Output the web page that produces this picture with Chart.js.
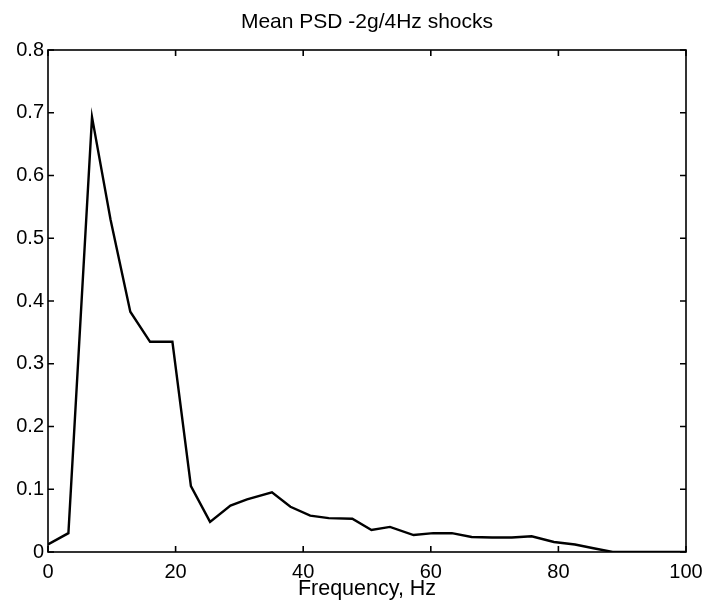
<!DOCTYPE html>
<html>
<head>
<meta charset="utf-8">
<title>Mean PSD -2g/4Hz shocks</title>
<script src="https://cdn.jsdelivr.net/npm/chart.js@4/dist/chart.umd.min.js"></script>
<style>
  html, body { margin: 0; padding: 0; background: #fff; }
  #wrap { width: 704px; height: 609px; }
</style>
</head>
<body>
<div id="wrap"><canvas id="psdChart" width="704" height="609"></canvas></div>
<script>
// values
const freqHz = [0, 3.2, 6.9, 9.8, 12.9, 16.0, 19.5, 22.4, 25.4, 28.6, 31.2, 35.1, 38.0, 41.1, 44.0, 47.7,
  50.7, 53.6, 57.3, 60.4, 63.3, 66.4, 69.6, 72.7, 75.8, 79.3, 82.6, 85.5, 88.5, 100];
const meanPsd = [0.012, 0.030, 0.693, 0.530, 0.383, 0.335, 0.335, 0.105, 0.048, 0.074, 0.084, 0.095, 0.072, 0.058, 0.054, 0.053,
  0.035, 0.040, 0.027, 0.030, 0.030, 0.024, 0.023, 0.023, 0.025, 0.016, 0.012, 0.006, 0.0, 0.0];
const xTicks = [0, 20, 40, 60, 80, 100];
const yTicks = [0, 0.1, 0.2, 0.3, 0.4, 0.5, 0.6, 0.7, 0.8];

const FONT = "'Liberation Sans', Arial, Helvetica, sans-serif";
const TICK_LEN = 6;

// MATLAB style box with inward tick marks on all four sides
const frameTicks = {
  id: 'frameTicks',
  afterLayout(chart) {
    // centre the title over the plot box, not the whole canvas
    const t = chart.titleBlock, a = chart.chartArea;
    if (t) { t.left = a.left; t.right = a.right; t.width = a.right - a.left; }
  },
  afterDatasetsDraw(chart) {
    const { ctx, chartArea: a, scales: { x, y } } = chart;
    ctx.save();
    ctx.strokeStyle = '#000';
    ctx.lineWidth = 1.6;
    ctx.strokeRect(a.left, a.top, a.right - a.left, a.bottom - a.top);
    ctx.beginPath();
    x.ticks.forEach(t => {
      const px = x.getPixelForValue(t.value);
      ctx.moveTo(px, a.bottom); ctx.lineTo(px, a.bottom - TICK_LEN);
      ctx.moveTo(px, a.top); ctx.lineTo(px, a.top + TICK_LEN);
    });
    y.ticks.forEach(t => {
      const py = y.getPixelForValue(t.value);
      ctx.moveTo(a.left, py); ctx.lineTo(a.left + TICK_LEN, py);
      ctx.moveTo(a.right, py); ctx.lineTo(a.right - TICK_LEN, py);
    });
    ctx.stroke();
    ctx.restore();
  }
};

new Chart(document.getElementById('psdChart'), {
  type: 'line',
  data: {
    datasets: [{
      label: 'Mean PSD',
      data: freqHz.map((f, i) => ({ x: f, y: meanPsd[i] })),
      borderColor: '#000',
      borderWidth: 2.4,
      pointRadius: 0,
      tension: 0,
      fill: false
    }]
  },
  options: {
    responsive: false,
    animation: false,
    layout: { padding: { left: 0, right: 18, top: 0, bottom: 0 } },
    plugins: {
      legend: { display: false },
      tooltip: { enabled: false },
      title: {
        display: true,
        text: 'Mean PSD -2g/4Hz shocks',
        color: '#000',
        font: { family: FONT, size: 21, weight: 'normal' },
        padding: { top: 10, bottom: 14.8 }
      }
    },
    scales: {
      x: {
        type: 'linear',
        min: 0,
        max: 100,
        afterBuildTicks: s => { s.ticks = xTicks.map(v => ({ value: v })); },
        afterFit: s => { s.height = 57; s.paddingLeft = 0; s.paddingRight = 0; },
        grid: { display: false, drawTicks: false },
        border: { display: false },
        ticks: { color: '#000', padding: 8, maxRotation: 0, font: { family: FONT, size: 20 } },
        title: {
          display: true,
          text: 'Frequency, Hz',
          color: '#000',
          font: { family: FONT, size: 21.5 },
          padding: { top: 0, bottom: 7 }
        }
      },
      y: {
        type: 'linear',
        min: 0,
        max: 0.8,
        afterBuildTicks: s => { s.ticks = yTicks.map(v => ({ value: v })); },
        afterFit: s => { s.width = 48; },
        grid: { display: false, drawTicks: false },
        border: { display: false },
        ticks: { color: '#000', padding: 4, font: { family: FONT, size: 20 } }
      }
    }
  },
  plugins: [frameTicks]
});
</script>
</body>
</html>
